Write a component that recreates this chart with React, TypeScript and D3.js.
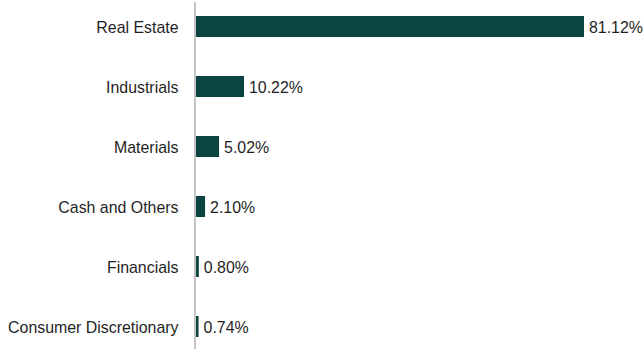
import React from "react";
import * as d3 from "d3";

const categories = [
  "Real Estate",
  "Industrials",
  "Materials",
  "Cash and Others",
  "Financials",
  "Consumer Discretionary",
];
const values = [81.12, 10.22, 5.02, 2.1, 0.8, 0.74];
const valueLabels = ["81.12%", "10.22%", "5.02%", "2.10%", "0.80%", "0.74%"];

const W = 643;
const H = 349;
const axisX = 195;

export default function App() {
  const x = d3.scaleLinear().domain([0, 81.12]).range([axisX, 584]);
  const y = d3
    .scaleBand<string>()
    .domain(categories)
    .range([-3.5, 356.5])
    .paddingInner(0.65)
    .paddingOuter(0.325);

  const font = "'Liberation Sans', Arial, sans-serif";
  const fs = 15.9;

  return (
    <svg
      width={W}
      height={H}
      style={{ position: "absolute", left: 0, top: 0, background: "#fff" }}
    >
      {categories.map((c, i) => {
        const y0 = y(c)!;
        const bw = y.bandwidth();
        const cy = y0 + bw / 2;
        return (
          <g key={c}>
            <rect
              x={x(0)}
              y={y0}
              width={x(values[i]) - x(0)}
              height={bw}
              fill="#0b4441"
            />
            <text
              x={axisX - 16.5}
              y={cy}
              dy="0.4em"
              textAnchor="end"
              fontFamily={font}
              fontSize={fs}
              fill="#1f1f1f"
            >
              {c}
            </text>
            <text
              x={x(values[i]) + 5}
              y={cy}
              dy="0.4em"
              textAnchor="start"
              fontFamily={font}
              fontSize={fs}
              fill="#1f1f1f"
            >
              {valueLabels[i]}
            </text>
          </g>
        );
      })}
      <line
        x1={axisX}
        x2={axisX}
        y1={2}
        y2={H}
        stroke="#c4c4c4"
        strokeWidth={2}
      />
    </svg>
  );
}
